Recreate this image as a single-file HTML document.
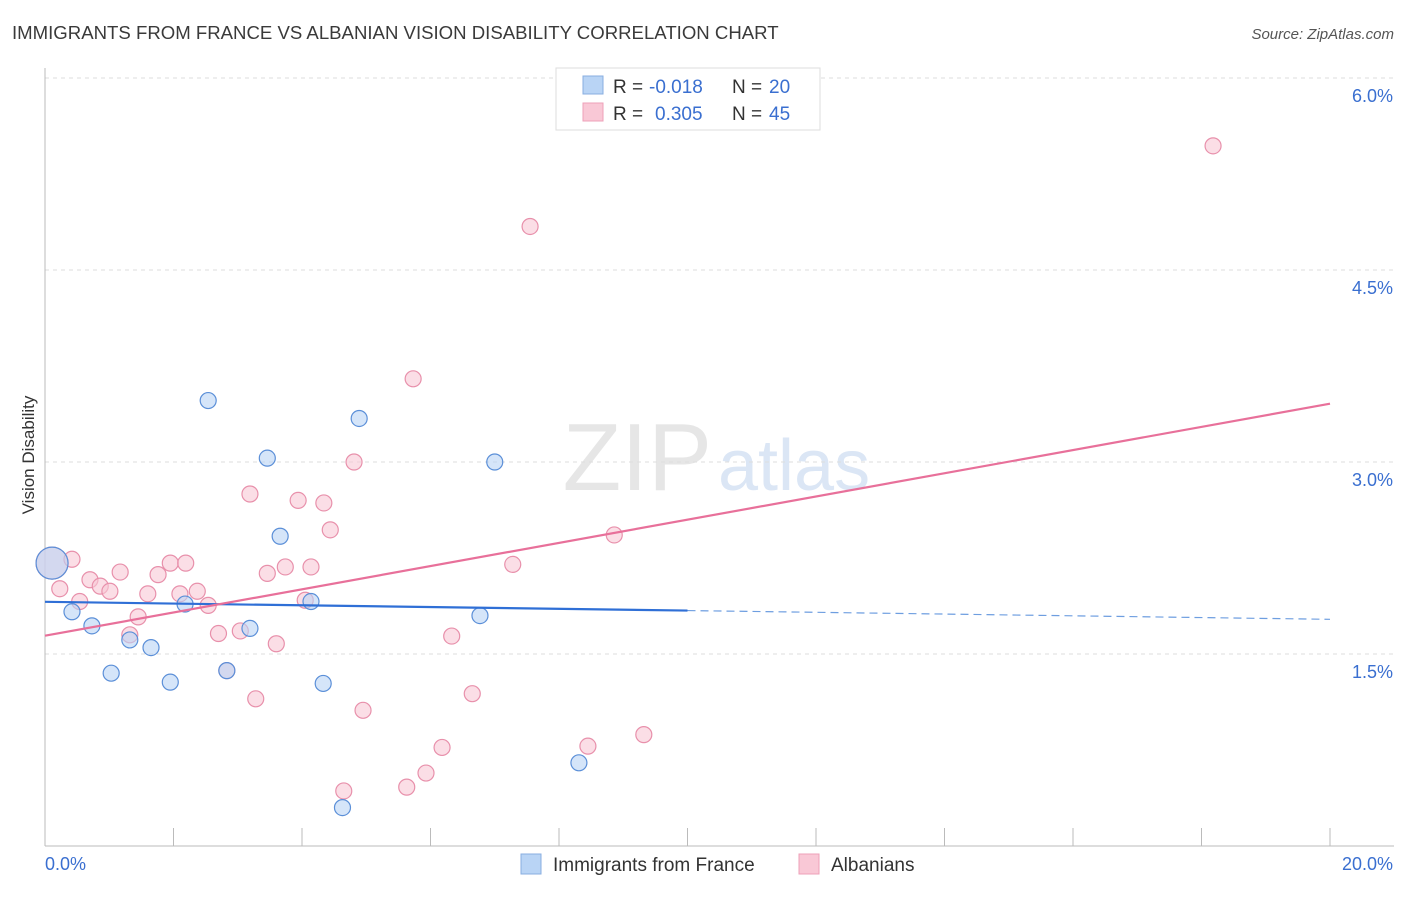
<!DOCTYPE html>
<html><head><meta charset="utf-8">
<style>
body{margin:0;background:#fff;font-family:"Liberation Sans",sans-serif;}
svg text{font-family:"Liberation Sans",sans-serif;}
</style></head>
<body>
<svg id="chart" width="1406" height="892" xmlns="http://www.w3.org/2000/svg">
<text x="12" y="39" font-size="18.6" fill="#3a3a3a">IMMIGRANTS FROM FRANCE VS ALBANIAN VISION DISABILITY CORRELATION CHART</text>
<text x="1394" y="39" font-size="15" fill="#555" text-anchor="end" font-style="italic">Source: ZipAtlas.com</text>
<text x="712" y="490" font-size="96" fill="#e6e6e6" text-anchor="end" font-family="Liberation Serif">ZIP</text>
<text x="718" y="490" font-size="72" fill="#dbe6f5">atlas</text>
<g id="grid"></g>
<g id="axes"></g>
<g id="marks"></g>
<text transform="translate(34,455) rotate(-90)" font-size="17" fill="#333" text-anchor="middle">Vision Disability</text>
<g>
<rect x="556" y="68" width="264" height="62" fill="#fff" stroke="#ddd"/>
<rect x="583" y="76" width="20" height="18" fill="#b9d4f5" stroke="#88aee0"/>
<text x="613" y="93" font-size="19" fill="#333">R =</text>
<text x="649" y="93" font-size="19" fill="#3a6fd0">-0.018</text>
<text x="732" y="93" font-size="19" fill="#333">N =</text>
<text x="769" y="93" font-size="19" fill="#3a6fd0">20</text>
<rect x="583" y="103" width="20" height="18" fill="#f9c8d6" stroke="#eea0b8"/>
<text x="613" y="120" font-size="19" fill="#333">R =</text>
<text x="655" y="120" font-size="19" fill="#3a6fd0">0.305</text>
<text x="732" y="120" font-size="19" fill="#333">N =</text>
<text x="769" y="120" font-size="19" fill="#3a6fd0">45</text>
</g>
<g>
<rect x="521" y="854" width="20" height="20" fill="#b9d4f5" stroke="#88aee0"/>
<text x="553" y="871" font-size="19" fill="#333">Immigrants from France</text>
<rect x="799" y="854" width="20" height="20" fill="#f9c8d6" stroke="#eea0b8"/>
<text x="831" y="871" font-size="19" fill="#333">Albanians</text>
</g>
</svg>
<script>
const yTicks=[1.5,3.0,4.5,6.0];
const yTickLabels=["1.5%","3.0%","4.5%","6.0%"];
const xTickLabels=["0.0%","20.0%"];
const franceX=[0.11,0.42,0.73,1.03,1.32,1.65,1.95,2.18,2.54,2.83,3.19,3.46,3.66,4.14,4.33,4.63,4.89,6.77,7.0,8.31];
const franceY=[2.21,1.83,1.72,1.35,1.61,1.55,1.28,1.89,3.48,1.37,1.7,3.03,2.42,1.91,1.27,0.3,3.34,1.8,3.0,0.65];
const albX=[0.11,0.23,0.42,0.54,0.7,0.86,1.01,1.17,1.32,1.45,1.6,1.76,1.95,2.1,2.19,2.37,2.54,2.7,2.83,3.04,3.19,3.28,3.46,3.6,3.74,3.94,4.05,4.14,4.34,4.44,4.65,4.81,4.95,5.63,5.73,5.93,6.18,6.33,6.65,7.28,7.55,8.45,8.86,9.32,18.18];
const albY=[2.21,2.01,2.24,1.91,2.08,2.03,1.99,2.14,1.65,1.79,1.97,2.12,2.21,1.97,2.21,1.99,1.88,1.66,1.37,1.68,2.75,1.15,2.13,1.58,2.18,2.7,1.92,2.18,2.68,2.47,0.43,3.0,1.06,0.46,3.65,0.57,0.77,1.64,1.19,2.2,4.84,0.78,2.43,0.87,5.47];
const X0=45,X1=1330,Y0=846,PX=128;
const sx=v=>X0+(v/20)*(X1-X0);
const sy=v=>Y0-v*PX;
const NS="http://www.w3.org/2000/svg";
function mk(tag,attrs,parent){const e=document.createElementNS(NS,tag);for(const k in attrs)e.setAttribute(k,attrs[k]);parent.appendChild(e);return e;}
const grid=document.getElementById('grid'),axes=document.getElementById('axes'),marks=document.getElementById('marks');
yTicks.forEach((t,i)=>{
 const l=mk('line',{x1:X0,x2:1394,y1:sy(t),y2:sy(t),stroke:'#ddd','stroke-dasharray':'4,4'},grid);
 
 
 const tx=mk('text',{x:1393,y:sy(t)+24,'font-size':18,fill:'#3a6fd0','text-anchor':'end'},axes);
 tx.textContent=yTickLabels[i];
 
 
});
const ya=mk('line',{x1:X0,x2:X0,y1:68,y2:Y0,stroke:'#bbb'},axes);


const xa=mk('line',{x1:X0,x2:1394,y1:Y0,y2:Y0,stroke:'#bbb'},axes);


for(let i=0;i<=10;i++){
 const t=mk('line',{x1:sx(i*2),x2:sx(i*2),y1:Y0-18,y2:Y0,stroke:'#bbb'},axes);
 
 
}
[[0,'start',45],[20,'end',1393]].forEach((d,i)=>{
 const t=mk('text',{x:d[2],y:870,'font-size':18,fill:'#3a6fd0','text-anchor':d[1]},axes);
 t.textContent=xTickLabels[i];
 
 
});
function dots(xs,ys,fill,stroke,name){
 xs.forEach((x,i)=>{
  const r=i===0?16:8;
  const c=mk('circle',{cx:sx(x),cy:sy(ys[i]),r:r,fill:fill,'fill-opacity':0.6,stroke:stroke,'stroke-width':1.2},marks);
  
  
 });
}
dots(albX,albY,'#f9c8d6','#e890ab','albanian-point');
dots(franceX,franceY,'#b9d4f5','#5b8fd8','france-point');
function fit(xs,ys){const n=xs.length;const mx=xs.reduce((a,b)=>a+b)/n,my=ys.reduce((a,b)=>a+b)/n;let sxy=0,sxx=0;xs.forEach((x,i)=>{sxy+=(x-mx)*(ys[i]-my);sxx+=(x-mx)**2;});const b=sxy/sxx;return [my-b*mx,b];}
const [fa,fb]=fit(franceX,franceY);
let l=mk('line',{x1:sx(0),y1:sy(fa),x2:sx(10),y2:sy(fa+fb*10),stroke:'#2f6fd6','stroke-width':2.2},marks);


l=mk('line',{x1:sx(10),y1:sy(fa+fb*10),x2:sx(20),y2:sy(fa+fb*20),stroke:'#6e9ee0','stroke-width':1.2,'stroke-dasharray':'8,5'},marks);


const [aa,ab]=fit(albX,albY);
l=mk('line',{x1:sx(0),y1:sy(aa),x2:sx(20),y2:sy(aa+ab*20),stroke:'#e8709a','stroke-width':2.2},marks);


</script>
</body></html>
